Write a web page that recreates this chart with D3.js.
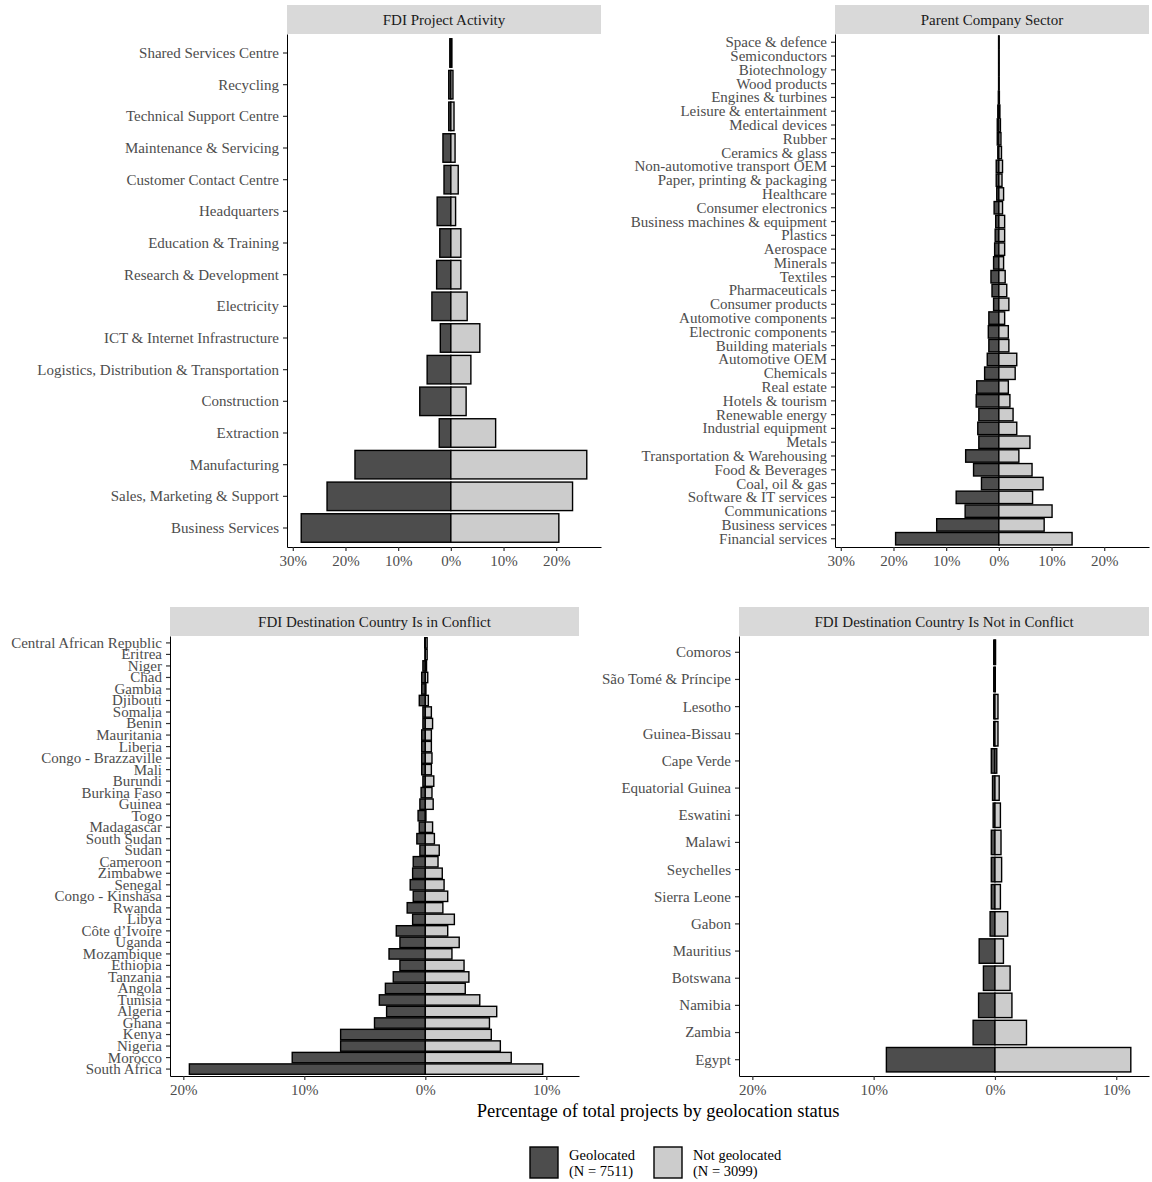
<!DOCTYPE html>
<html>
<head>
<meta charset="utf-8">
<script src="https://cdn.jsdelivr.net/npm/d3@7"></script>
<style>
  body { margin: 0; background: #fff; }
  text { font-family: "Liberation Serif", "Times New Roman", serif; }
</style>
</head>
<body>
<div id="chart"></div>
<script>
// categories are listed top to bottom; values are percentages
const activityCats = ["Shared Services Centre", "Recycling", "Technical Support Centre",
    "Maintenance & Servicing", "Customer Contact Centre", "Headquarters", "Education & Training",
    "Research & Development", "Electricity", "ICT & Internet Infrastructure",
    "Logistics, Distribution & Transportation", "Construction", "Extraction", "Manufacturing",
    "Sales, Marketing & Support", "Business Services"];
const activityGeo = [0.2, 0.4, 0.4, 1.5, 1.3, 2.6, 2.1, 2.7, 3.6, 2.0, 4.5, 5.9, 2.2, 18.2, 23.5, 28.4];
const activityNot = [0.2, 0.4, 0.6, 0.8, 1.4, 0.9, 1.9, 1.9, 3.1, 5.5, 3.8, 2.9, 8.5, 25.8, 23.1, 20.5];

const sectorCats = ["Space & defence", "Semiconductors", "Biotechnology", "Wood products",
    "Engines & turbines", "Leisure & entertainment", "Medical devices", "Rubber", "Ceramics & glass",
    "Non-automotive transport OEM", "Paper, printing & packaging", "Healthcare", "Consumer electronics",
    "Business machines & equipment", "Plastics", "Aerospace", "Minerals", "Textiles", "Pharmaceuticals",
    "Consumer products", "Automotive components", "Electronic components", "Building materials",
    "Automotive OEM", "Chemicals", "Real estate", "Hotels & tourism", "Renewable energy",
    "Industrial equipment", "Metals", "Transportation & Warehousing", "Food & Beverages",
    "Coal, oil & gas", "Software & IT services", "Communications", "Business services",
    "Financial services"];
const sectorGeo = [0.05, 0.05, 0.05, 0.05, 0.1, 0.2, 0.3, 0.3, 0.2, 0.5, 0.5, 0.4, 0.9, 0.6, 0.7, 0.8,
    1.0, 1.5, 1.3, 1.0, 1.9, 2.0, 1.9, 2.2, 2.7, 4.2, 4.3, 3.8, 4.0, 3.8, 6.3, 4.8, 3.3, 8.1, 6.4, 11.8, 19.6];
const sectorNot = [0.05, 0.05, 0.05, 0.05, 0.1, 0.2, 0.3, 0.4, 0.5, 0.7, 0.6, 0.9, 0.7, 1.1, 1.1, 1.1,
    0.9, 1.2, 1.5, 1.9, 1.1, 1.8, 1.9, 3.4, 3.1, 1.8, 2.1, 2.7, 3.4, 5.9, 3.8, 6.3, 8.4, 6.4, 10.1, 8.6, 13.9];

const conflictCats = ["Central African Republic", "Eritrea", "Niger", "Chad", "Gambia", "Djibouti",
    "Somalia", "Benin", "Mauritania", "Liberia", "Congo - Brazzaville", "Mali", "Burundi", "Burkina Faso",
    "Guinea", "Togo", "Madagascar", "South Sudan", "Sudan", "Cameroon", "Zimbabwe", "Senegal",
    "Congo - Kinshasa", "Rwanda", "Libya", "Côte d’Ivoire", "Uganda", "Mozambique", "Ethiopia",
    "Tanzania", "Angola", "Tunisia", "Algeria", "Ghana", "Kenya", "Nigeria", "Morocco", "South Africa"];
const conflictGeo = [0.05, 0.03, 0.2, 0.3, 0.3, 0.5, 0.2, 0.2, 0.3, 0.3, 0.3, 0.3, 0.2, 0.35, 0.45, 0.6,
    0.5, 0.7, 0.45, 1.0, 1.05, 1.25, 1.0, 1.5, 1.05, 2.4, 2.1, 3.0, 2.1, 2.65, 3.3, 3.8, 3.2, 4.2, 7.0,
    7.0, 11.0, 19.5];
const conflictNot = [0.15, 0.15, 0.1, 0.2, 0.05, 0.25, 0.5, 0.6, 0.5, 0.5, 0.55, 0.5, 0.7, 0.55, 0.65,
    0.05, 0.6, 0.75, 1.15, 1.05, 1.4, 1.55, 1.85, 1.45, 2.4, 1.85, 2.8, 2.2, 3.2, 3.6, 3.3, 4.5, 5.9,
    5.3, 5.45, 6.2, 7.1, 9.7];

const peaceCats = ["Comoros", "São Tomé & Príncipe", "Lesotho", "Guinea-Bissau", "Cape Verde",
    "Equatorial Guinea", "Eswatini", "Malawi", "Seychelles", "Sierra Leone", "Gabon", "Mauritius",
    "Botswana", "Namibia", "Zambia", "Egypt"];
const peaceGeo = [0.1, 0.1, 0.1, 0.1, 0.3, 0.2, 0.15, 0.3, 0.3, 0.3, 0.4, 1.3, 0.95, 1.35, 1.8, 8.95];
const peaceNot = [0.05, 0.03, 0.25, 0.25, 0.15, 0.35, 0.45, 0.5, 0.55, 0.45, 1.05, 0.7, 1.25, 1.4, 2.6, 11.2];

const topTicks = [-30, -20, -10, 0, 10, 20];
const bottomTicks = [-20, -10, 0, 10];

const legendLabels = [["Geolocated", "(N = 7511)"], ["Not geolocated", "(N = 3099)"]];
const fills = ["#4d4d4d", "#cccccc"];

const svg = d3.select("#chart").append("svg")
    .attr("width", 1152)
    .attr("height", 1182);

const drawPanel = (title, cats, geo, notGeo, box, domain, ticks) => {
    const x = d3.scaleLinear().domain(domain).range([box.left, box.right]);
    const y = d3.scaleBand()
        .domain(cats)
        .range([box.top, box.bottom])
        .paddingInner(0.1)
        .paddingOuter(0.15);

    // strip
    svg.append("rect")
        .attr("x", box.left).attr("y", box.top - 29)
        .attr("width", box.right - box.left).attr("height", 29)
        .attr("fill", "#d9d9d9");
    svg.append("text")
        .attr("x", (box.left + box.right) / 2).attr("y", box.top - 9.5)
        .attr("text-anchor", "middle")
        .attr("font-size", 15)
        .attr("fill", "#1a1a1a")
        .text(title);

    const g = svg.append("g");
    g.selectAll("rect.geo").data(cats).enter().append("rect")
        .attr("class", "geo")
        .attr("x", (d, i) => x(-geo[i]))
        .attr("y", d => y(d))
        .attr("width", (d, i) => x(0) - x(-geo[i]))
        .attr("height", y.bandwidth())
        .attr("fill", fills[0])
        .attr("stroke", "#000")
        .attr("stroke-width", 1.4);
    g.selectAll("rect.not").data(cats).enter().append("rect")
        .attr("class", "not")
        .attr("x", x(0))
        .attr("y", d => y(d))
        .attr("width", (d, i) => x(notGeo[i]) - x(0))
        .attr("height", y.bandwidth())
        .attr("fill", fills[1])
        .attr("stroke", "#000")
        .attr("stroke-width", 1.4);

    const xAxis = svg.append("g")
        .attr("transform", `translate(0, ${box.bottom})`)
        .call(d3.axisBottom(x).tickValues(ticks).tickSize(4).tickSizeOuter(0)
            .tickFormat(d => Math.abs(d) + "%"));
    const yAxis = svg.append("g")
        .attr("transform", `translate(${box.left}, 0)`)
        .call(d3.axisLeft(y).tickSize(4).tickSizeOuter(0).tickPadding(4));
    [xAxis, yAxis].forEach(a => {
        a.select(".domain").attr("stroke", "#000").attr("stroke-width", 1);
        a.selectAll(".tick line").attr("stroke", "#333").attr("stroke-width", 1.2);
        a.selectAll(".tick text")
            .attr("font-family", "Liberation Serif, Times New Roman, serif")
            .attr("font-size", 15)
            .attr("fill", "#4d4d4d");
    });
    xAxis.selectAll(".tick text").attr("dy", "0.78em");
    yAxis.selectAll(".tick text").attr("dy", "0.33em");
};

drawPanel("FDI Project Activity", activityCats, activityGeo, activityNot,
    {left: 287, right: 601, top: 34, bottom: 547}, [-31.1, 28.5], topTicks);
drawPanel("Parent Company Sector", sectorCats, sectorGeo, sectorNot,
    {left: 835, right: 1149, top: 34, bottom: 547}, [-31.1, 28.5], topTicks);
drawPanel("FDI Destination Country Is in Conflict", conflictCats, conflictGeo, conflictNot,
    {left: 170, right: 579, top: 636, bottom: 1076}, [-21.1, 12.7], bottomTicks);
drawPanel("FDI Destination Country Is Not in Conflict", peaceCats, peaceGeo, peaceNot,
    {left: 739, right: 1149, top: 636, bottom: 1076}, [-21.1, 12.7], bottomTicks);

// axis title
svg.append("text")
    .attr("x", 658).attr("y", 1117)
    .attr("text-anchor", "middle")
    .attr("font-size", 18.5)
    .attr("fill", "#000")
    .text("Percentage of total projects by geolocation status");

// legend
const legendX = [530, 654];
legendLabels.forEach((lab, i) => {
    const lg = svg.append("g").attr("transform", `translate(${legendX[i]}, 1147)`);
    lg.append("rect")
        .attr("x", 0).attr("y", 0)
        .attr("width", 28).attr("height", 31)
        .attr("fill", fills[i])
        .attr("stroke", "#000")
        .attr("stroke-width", 1.4);
    lg.append("text")
        .attr("x", 39).attr("y", 13)
        .attr("font-size", 14.5)
        .attr("fill", "#000")
        .text(lab[0]);
    lg.append("text")
        .attr("x", 39).attr("y", 29)
        .attr("font-size", 14.5)
        .attr("fill", "#000")
        .text(lab[1]);
});
</script>
</body>
</html>
